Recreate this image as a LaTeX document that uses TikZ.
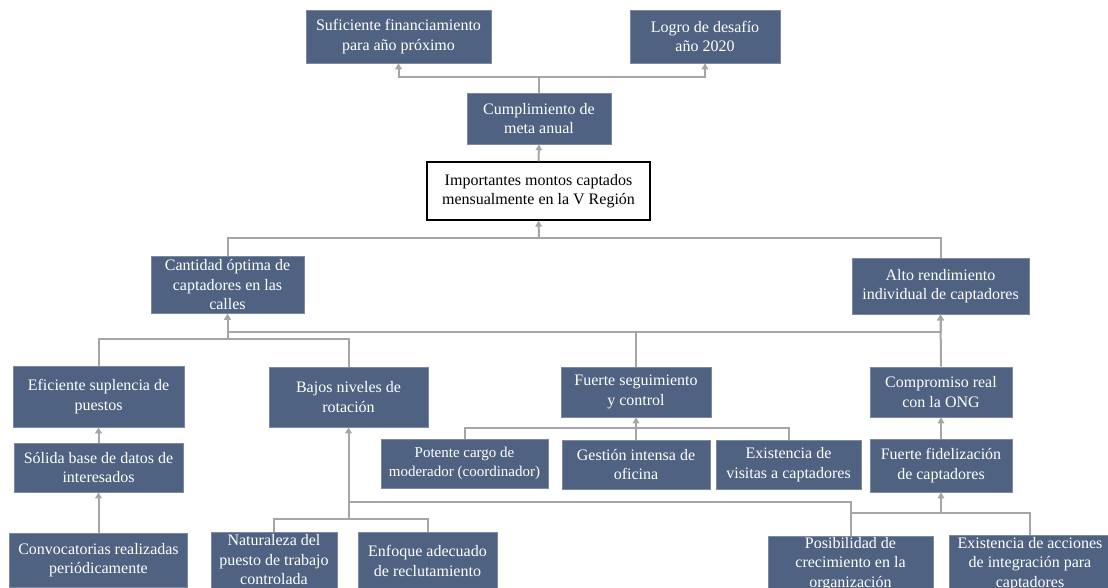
\documentclass[tikz,border=0pt]{standalone}
\usepackage{fontspec}
\setmainfont{Liberation Serif}
\usetikzlibrary{arrows.meta}
\definecolor{boxblue}{RGB}{80,98,130}
\definecolor{linkgray}{RGB}{166,166,166}

\begin{document}
\begin{tikzpicture}[x=1pt,y=-1pt,
  box/.style={fill=boxblue,draw=boxblue!75!white,line width=0.6pt,text=white,align=center,inner sep=0pt,font=\fontsize{16}{19.5}\selectfont},
  link/.style={draw=linkgray,line width=2pt},
  arr/.style={link,-{Triangle[width=6.5pt,length=6pt]}}]
  \useasboundingbox (0,0) rectangle (1108,588);
  \clip (0,0) rectangle (1108,588);
  \fill[white] (0,0) rectangle (1108,588);
  \node[box,minimum width=185pt,minimum height=53pt] (suf) at (398.5,36.5) {Suficiente financiamiento\\para año próximo};
  \node[box,minimum width=150pt,minimum height=53pt] (logro) at (705,36.5) {Logro de desafío\\año 2020};
  \node[box,minimum width=144pt,minimum height=51pt] (cum) at (539,118.5) {Cumplimiento de\\meta anual};
  \node[box,fill=white,draw=black,line width=1.2pt,text=black,minimum width=223pt,minimum height=58pt] (imp) at (538.5,191) {Importantes montos captados\\mensualmente en la V Región};
  \node[box,minimum width=153pt,minimum height=57pt] (cant) at (227.5,285) {Cantidad óptima de\\captadores en las\\calles};
  \node[box,minimum width=177pt,minimum height=56pt] (alto) at (940.5,286) {Alto rendimiento\\individual de captadores};
  \node[box,minimum width=171pt,minimum height=61pt] (efi) at (98.5,396.5) {Eficiente suplencia de\\puestos};
  \node[box,minimum width=159pt,minimum height=60pt] (bajos) at (348.5,397) {Bajos niveles de\\rotación};
  \node[box,minimum width=150pt,minimum height=50pt] (fseg) at (636,392) {Fuerte seguimiento\\y control};
  \node[box,minimum width=142pt,minimum height=50pt] (comp) at (941,392) {Compromiso real\\con la ONG};
  \node[box,minimum width=169pt,minimum height=49pt] (sol) at (98.5,467.5) {Sólida base de datos de\\interesados};
  \node[box,font=\fontsize{15}{18.5}\selectfont,minimum width=167pt,minimum height=49pt] (pot) at (464.5,463.5) {Potente cargo de\\moderador (coordinador)};
  \node[box,minimum width=148pt,minimum height=49pt] (gest) at (636,464.5) {Gestión intensa de\\oficina};
  \node[box,minimum width=145pt,minimum height=49pt] (vis) at (788.5,464.5) {Existencia de\\visitas a captadores};
  \node[box,minimum width=142pt,minimum height=53pt] (fidel) at (941,465.5) {Fuerte fidelización\\de captadores};
  \node[box,minimum width=178pt,minimum height=54pt] (conv) at (98.5,560) {Convocatorias realizadas\\periódicamente};
  \node[box,minimum width=126pt,minimum height=56pt] (natu) at (274,560) {Naturaleza del\\puesto de trabajo\\controlada};
  \node[box,minimum width=139pt,minimum height=58pt] (enf) at (427.5,561) {Enfoque adecuado\\de reclutamiento};
  \node[box,minimum width=165pt,minimum height=56pt] (pos) at (850.5,564) {Posibilidad de\\crecimiento en la\\organización};
  \node[box,minimum width=162pt,minimum height=58pt] (acc) at (1030,564) {Existencia de acciones\\de integración para\\captadores};
  \coordinate (jtop) at (539,77);
  \coordinate (jimp) at (539,238);
  \coordinate (jcant) at (227.5,339);
  \coordinate (jalto) at (636,332);
  \coordinate (jseg) at (636,428);
  \coordinate (jbaj) at (348.5,519);
  \coordinate (jpos) at (348.5,502);
  \coordinate (jfid) at (941,513);
  \draw[link] (cum.north) -- (jtop);
  \draw[arr] (jtop) -| (suf.south);
  \draw[arr] (jtop) -| (logro.south);
  \draw[arr] (imp.north) -- (cum.south);
  \draw[link] (cant.north) |- (jimp);
  \draw[link] (alto.north) |- (jimp);
  \draw[arr] (jimp) -- (imp.south);
  \draw[link] (efi.north) |- (jcant);
  \draw[link] (bajos.north) |- (jcant);
  \draw[arr] (jcant) -- (cant.south);
  \draw[link] (fseg.north) -- (jalto);
  \draw[arr] (jalto) -| (cant.south);
  \draw[arr] (jalto) -| (alto.south);
  \draw[arr] (comp.north) -- (alto.south);
  \draw[arr] (sol.north) -- (efi.south);
  \draw[arr] (conv.north) -- (sol.south);
  \draw[link] (pot.north) |- (jseg);
  \draw[link] (gest.north) -- (jseg);
  \draw[link] (vis.north) |- (jseg);
  \draw[arr] (jseg) -- (fseg.south);
  \draw[arr] (fidel.north) -- (comp.south);
  \draw[link] (natu.north) |- (jbaj);
  \draw[link] (enf.north) |- (jbaj);
  \draw[arr] (jbaj) -- (bajos.south);
  \draw[link] (pos.north) |- (jpos);
  \draw[link] (pos.north) |- (jfid);
  \draw[link] (acc.north) |- (jfid);
  \draw[arr] (jfid) -- (fidel.south);
\end{tikzpicture}
\end{document}
